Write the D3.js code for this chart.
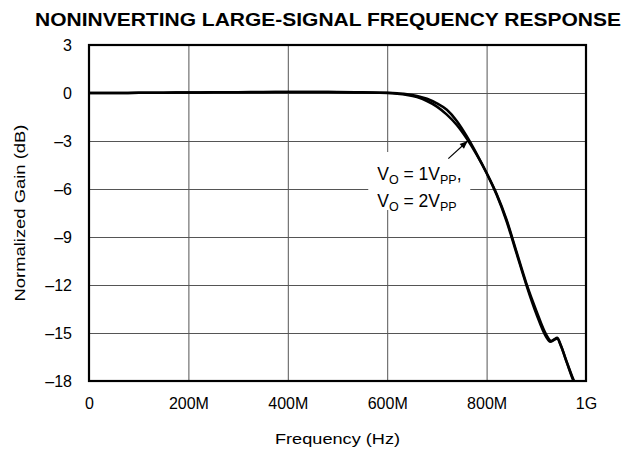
<!DOCTYPE html>
<html><head><meta charset="utf-8">
<script src="https://cdn.jsdelivr.net/npm/d3@7"></script>
<style>
body{margin:0;background:#fff;}
svg{display:block;font-family:"Liberation Sans",Arial,Helvetica,sans-serif;}
</style></head>
<body>
<script>
// ---- data ----
const title = "NONINVERTING LARGE-SIGNAL FREQUENCY RESPONSE";
const xTickValues = [0, 200, 400, 600, 800, 1000];           // MHz
const xTickLabels = ["0", "200M", "400M", "600M", "800M", "1G"];
const yTickValues = [3, 0, -3, -6, -9, -12, -15, -18];
const yTickLabels = ["3", "0", "–3", "–6", "–9", "–12", "–15", "–18"];
const xLabel = "Frequency (Hz)";
const yLabel = "Normalized Gain (dB)";

const freq1 = [0, 50, 100, 150, 200, 250, 300, 350, 400, 450, 500, 550, 600, 620, 640, 660, 680, 700, 720, 740, 760, 780, 800, 820, 840, 860, 880, 900, 920, 930, 936, 942, 948, 960, 972, 980];
const gain1 = [0, 0, 0.01, 0.02, 0.03, 0.04, 0.05, 0.06, 0.07, 0.07, 0.06, 0.04, 0.01, -0.02, -0.07, -0.18, -0.36, -0.65, -1.05, -1.75, -2.7, -3.8, -5.0, -6.3, -7.9, -9.9, -11.9, -13.6, -15.1, -15.5, -15.4, -15.3, -15.65, -16.7, -17.7, -18.3];
const freq2 = [0, 50, 100, 150, 200, 250, 300, 350, 400, 450, 500, 550, 600, 620, 640, 660, 680, 700, 720, 740, 760, 780, 800, 820, 840, 860, 880, 900, 920, 928, 935, 942, 950, 962, 975, 982];
const gain2 = [0, 0, 0.01, 0.02, 0.03, 0.04, 0.05, 0.05, 0.06, 0.06, 0.05, 0.03, 0.0, -0.04, -0.12, -0.26, -0.5, -0.85, -1.35, -2.0, -2.85, -3.85, -5.0, -6.35, -8.0, -10.0, -12.0, -13.8, -15.25, -15.55, -15.45, -15.35, -15.85, -16.9, -18.0, -18.4];
const annoLine1 = ["V", "O", " = 1V", "PP", ","];
const annoLine2 = ["V", "O", " = 2V", "PP", ""];

// ---- layout ----
const W = 631, H = 452;
const m = {left: 89, top: 45, right: 631 - 586, bottom: 452 - 381};
const pw = W - m.left - m.right, ph = H - m.top - m.bottom;

const svg = d3.select("body").append("svg").attr("width", W).attr("height", H);

const x = d3.scaleLinear().domain([0, 1000]).range([0, pw]);
const y = d3.scaleLinear().domain([-18, 3]).range([ph, 0]);

const g = svg.append("g").attr("transform", `translate(${m.left},${m.top})`);

// grid
const gx = g.append("g").attr("transform", `translate(0,${ph})`)
  .call(d3.axisBottom(x).tickValues(xTickValues).tickSize(-ph).tickFormat(""));
const gy = g.append("g")
  .call(d3.axisLeft(y).tickValues(yTickValues).tickSize(-pw).tickFormat(""));
[gx, gy].forEach(a => { a.select(".domain").remove(); a.selectAll("line").attr("stroke", "#555").attr("stroke-width", 1); });

const anno = g.append("g");

// curves
g.append("clipPath").attr("id", "clip").append("rect").attr("width", pw).attr("height", ph);
const line = d3.line().curve(d3.curveMonotoneX);
const series = [[freq1, gain1], [freq2, gain2]];
g.append("g").attr("clip-path", "url(#clip)").selectAll("path").data(series).join("path")
  .attr("d", s => line(s[0].map((f, i) => [x(f), y(s[1][i])])))
  .attr("fill", "none").attr("stroke", "#000").attr("stroke-width", 2.5).attr("stroke-linejoin", "round");

// frame
g.append("rect").attr("width", pw).attr("height", ph).attr("fill", "none").attr("stroke", "#000").attr("stroke-width", 2.2);

// tick labels
const ax = g.append("g").attr("transform", `translate(0,${ph})`)
  .call(d3.axisBottom(x).tickValues(xTickValues).tickSize(0).tickPadding(17).tickFormat((d, i) => xTickLabels[i]));
const ay = g.append("g")
  .call(d3.axisLeft(y).tickValues(yTickValues).tickSize(0).tickPadding(17).tickFormat((d, i) => yTickLabels[i]));
[ax, ay].forEach(a => { a.select(".domain").remove(); a.selectAll("text").attr("font-size", 16).attr("fill", "#000").style("font-family", "'Liberation Sans',Arial,sans-serif"); });

// axis titles
svg.append("text").attr("x", m.left + pw / 2 - 62.5).attr("y", 444)
  .attr("font-size", 15.5).attr("textLength", 125).attr("lengthAdjust", "spacingAndGlyphs").text(xLabel);
svg.append("text").attr("transform", `translate(25,${m.top + ph / 2 + 88.5}) rotate(-90)`)
  .attr("font-size", 15.5).attr("textLength", 177).attr("lengthAdjust", "spacingAndGlyphs").text(yLabel);

// title
svg.append("text").attr("x", 35).attr("y", 26)
  .attr("font-weight", "bold").attr("font-size", 18.5)
  .attr("textLength", 586).attr("lengthAdjust", "spacingAndGlyphs").text(title);

// annotation
const ax0 = x(580), ay0 = y(-5.5);
anno.append("rect").attr("x", ax0 - 9).attr("y", ay0 - 29).attr("width", 102).attr("height", 58).attr("fill", "#fff");
function annoText(parts, yy) {
  const tt = anno.append("text").attr("x", ax0).attr("y", yy).attr("font-size", 17.5);
  parts.forEach((p, i) => {
    const sp = tt.append("tspan").text(p);
    if (i % 2 === 1) sp.attr("font-size", 12.5).attr("dy", 4);
    else if (i > 0) sp.attr("dy", -4);
  });
}
annoText(annoLine1, ay0 - 1);
annoText(annoLine2, ay0 + 26);

// arrow
const ad = [[x(723), y(-4.1)], [x(762), y(-3.0)]];
anno.append("line").attr("x1", ad[0][0]).attr("y1", ad[0][1]).attr("x2", ad[1][0]).attr("y2", ad[1][1])
  .attr("stroke", "#000").attr("stroke-width", 1.2);
const ang = Math.atan2(ad[1][1] - ad[0][1], ad[1][0] - ad[0][0]);
const L = 8, Wd = 3.2;
const tip = ad[1];
const back = [tip[0] - L * Math.cos(ang), tip[1] - L * Math.sin(ang)];
const pts = [tip, [back[0] + Wd * Math.sin(ang), back[1] - Wd * Math.cos(ang)], [back[0] - Wd * Math.sin(ang), back[1] + Wd * Math.cos(ang)]];
anno.append("path").attr("d", "M" + pts.map(p => p.join(",")).join("L") + "Z").attr("fill", "#000");
anno.raise();
</script>
</body></html>
